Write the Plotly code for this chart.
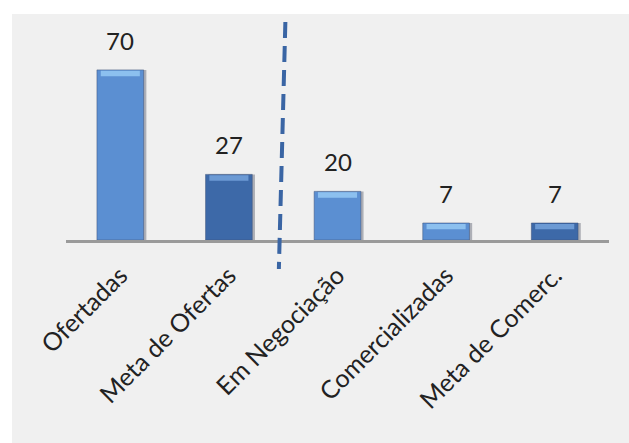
import plotly.graph_objects as go

categories = ["Ofertadas", "Meta de Ofertas", "Em Negociação", "Comercializadas", "Meta de Comerc."]
values = [70, 27, 20, 7, 7]
bar_colors = ["#5b8fd2", "#3d69a8", "#5b8fd2", "#5b8fd2", "#3d69a8"]
top_colors = ["#8cc0ef", "#6c9ad4", "#8cc0ef", "#8cc0ef", "#6c9ad4"]
BEVEL = 2.2  # height of the light top bevel, in value units

fig = go.Figure()
# soft shadow to the right of each bar
fig.add_trace(go.Bar(
    x=categories, y=values, width=0.43, offset=-0.19,
    marker=dict(color="rgba(90,95,110,0.45)", line=dict(width=0)),
    hoverinfo="skip",
))
# main bars
fig.add_trace(go.Bar(
    x=categories, y=values, width=0.43, offset=-0.215,
    marker=dict(color=bar_colors, line=dict(color="rgba(60,80,120,0.5)", width=1)),
    hoverinfo="skip",
))
# light bevel at the top of each bar
fig.add_trace(go.Bar(
    x=categories, y=[BEVEL] * len(values), base=[v - BEVEL - 0.4 for v in values],
    width=0.36, offset=-0.18,
    marker=dict(color=top_colors, line=dict(width=0)),
    hoverinfo="skip",
))

for c, v in zip(categories, values):
    fig.add_annotation(x=c, y=v, text=str(v), showarrow=False, yanchor="bottom",
                       yshift=13, font=dict(family="Lato", size=24, color="#222222"))

# divider between offer group and commercial group
fig.add_shape(type="line", xref="x", yref="paper", x0=1.52, x1=1.46, y0=1.0, y1=-0.133,
              line=dict(color="#3a65a4", width=4, dash="16px,8px"), layer="above")

# white strips around the grey panel
fig.add_shape(type="rect", xref="paper", yref="paper", x0=-0.2, x1=1.1, y0=1.0367, y1=1.2,
              fillcolor="white", line=dict(width=0), layer="below")
fig.add_shape(type="rect", xref="paper", yref="paper", x0=-0.2, x1=-0.0994, y0=-1.0, y1=1.2,
              fillcolor="white", line=dict(width=0), layer="below")

fig.update_layout(
    width=629, height=443,
    margin=dict(l=66, r=20, t=22, b=203),
    paper_bgcolor="#f0f0f0", plot_bgcolor="rgba(0,0,0,0)",
    showlegend=False, barmode="overlay",
    font=dict(family="Lato", color="#222222"),
    xaxis=dict(showline=True, linecolor="#9a9a9a", linewidth=3, showgrid=False,
               tickangle=-45, tickfont=dict(family="Lato", size=25, color="#222222"),
               ticks="", fixedrange=True, ticklabelstandoff=8),
    yaxis=dict(range=[0, 89.7], visible=False, showgrid=False, zeroline=False, fixedrange=True),
)

fig.write_html("out.html")
